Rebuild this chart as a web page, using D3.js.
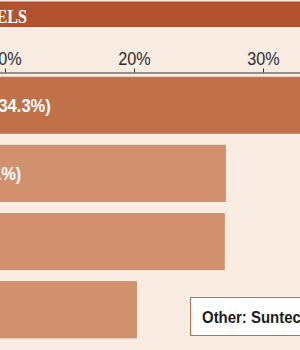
<!DOCTYPE html>
<html>
<head>
<meta charset="utf-8">
<script src="https://cdn.jsdelivr.net/npm/d3@7"></script>
<style>
  body { margin: 0; background: #F8ECE3; }
  svg { display: block; }
</style>
</head>
<body>
<div id="chart"></div>
<script>
const CTX = {
    SVG_W: 300,
    SVG_H: 350,
    BG: "#F8ECE3",
    HEAD: "#B3522E",
    SANS: "'Liberation Sans', Arial, sans-serif",
    SQUEEZE: 0.88 // fake a condensed face
};

// data
const makers = ["Kyocera Solar", "First Solar", "Sharp", "Sanyo"];
const shares = [34.3, 27.1, 27.0, 20.2];
const barColors = ["#C0714A", "#D1906E", "#D1906E", "#D1906E"];
const tickVals = [0, 10, 20, 30, 40];
const title = "SOLAR PANELS";
const otherNote = "Other: Suntech, Sharp, Sanyo";

function buildChart() {
    let svg = d3.select("#chart").append("svg")
        .attr("width", CTX.SVG_W)
        .attr("height", CTX.SVG_H);

    svg.append("rect")
        .attr("width", CTX.SVG_W)
        .attr("height", CTX.SVG_H)
        .attr("fill", CTX.BG);

    // header band
    svg.append("rect")
        .attr("x", 0)
        .attr("y", 1.5)
        .attr("width", CTX.SVG_W)
        .attr("height", 25.5)
        .attr("fill", CTX.HEAD);
    svg.append("g")
        .attr("transform", "translate(27,23) scale(0.85,1)")
        .append("text")
        .text(title)
        .attr("text-anchor", "end")
        .style("font-family", "'Liberation Serif', 'DejaVu Serif', serif")
        .style("font-weight", "bold")
        .style("font-size", "19px")
        .style("fill", "#FFFFFF");

    let x = d3.scaleLinear()
        .domain([0, 40])
        .range([-124, 392]);

    let y = d3.scaleBand()
        .domain(makers)
        .range([77, 338])
        .paddingInner(0.17)
        .paddingOuter(0);

    let axis = svg.append("g")
        .attr("transform", "translate(0,72.5)")
        .call(d3.axisTop(x)
            .tickValues(tickVals)
            .tickSize(4)
            .tickSizeOuter(0)
            .tickPadding(4)
            .tickFormat(d => d + "%"));
    axis.select(".domain").attr("stroke", "#333");
    axis.selectAll(".tick line").attr("stroke", "#333");
    axis.selectAll("text")
        .attr("transform", "scale(0.9,1)")
        .style("font-family", CTX.SANS)
        .style("font-size", "18px")
        .style("fill", "#2b2b2b");

    let rows = makers.map((m, i) => ({name: m, val: shares[i], col: barColors[i]}));

    svg.selectAll(".bar")
        .data(rows)
        .enter()
        .append("rect")
        .attr("class", "bar")
        .attr("x", x(0))
        .attr("y", d => y(d.name))
        .attr("width", d => x(d.val) - x(0))
        .attr("height", y.bandwidth())
        .attr("fill", d => d.col)
        .attr("stroke", "#C98262")
        .attr("stroke-width", 0.6);

    svg.selectAll(".lbl")
        .data(rows)
        .enter()
        .append("g")
        .attr("class", "lbl")
        .attr("transform", d => `translate(${x(0) + 1},${y(d.name) + y.bandwidth() / 2 + 7}) scale(0.92,1)`)
        .append("text")
        .text(d => d.name + " (" + d.val.toFixed(1) + "%)")
        .style("font-family", CTX.SANS)
        .style("font-weight", "bold")
        .style("font-size", "18px")
        .style("fill", "#FFFFFF");

    // note box
    let note = svg.append("g").attr("transform", "translate(190.5,297.5)");
    note.append("rect")
        .attr("width", 220)
        .attr("height", 38)
        .attr("fill", "#FFFFFF")
        .attr("stroke", "#B5704F")
        .attr("stroke-width", 1);
    note.append("g")
        .attr("transform", `translate(11.5,25) scale(${CTX.SQUEEZE},1)`)
        .append("text")
        .text(otherNote)
        .style("font-family", CTX.SANS)
        .style("font-weight", "bold")
        .style("font-size", "17px")
        .style("fill", "#1c1c1c");
}

buildChart();
</script>
</body>
</html>
